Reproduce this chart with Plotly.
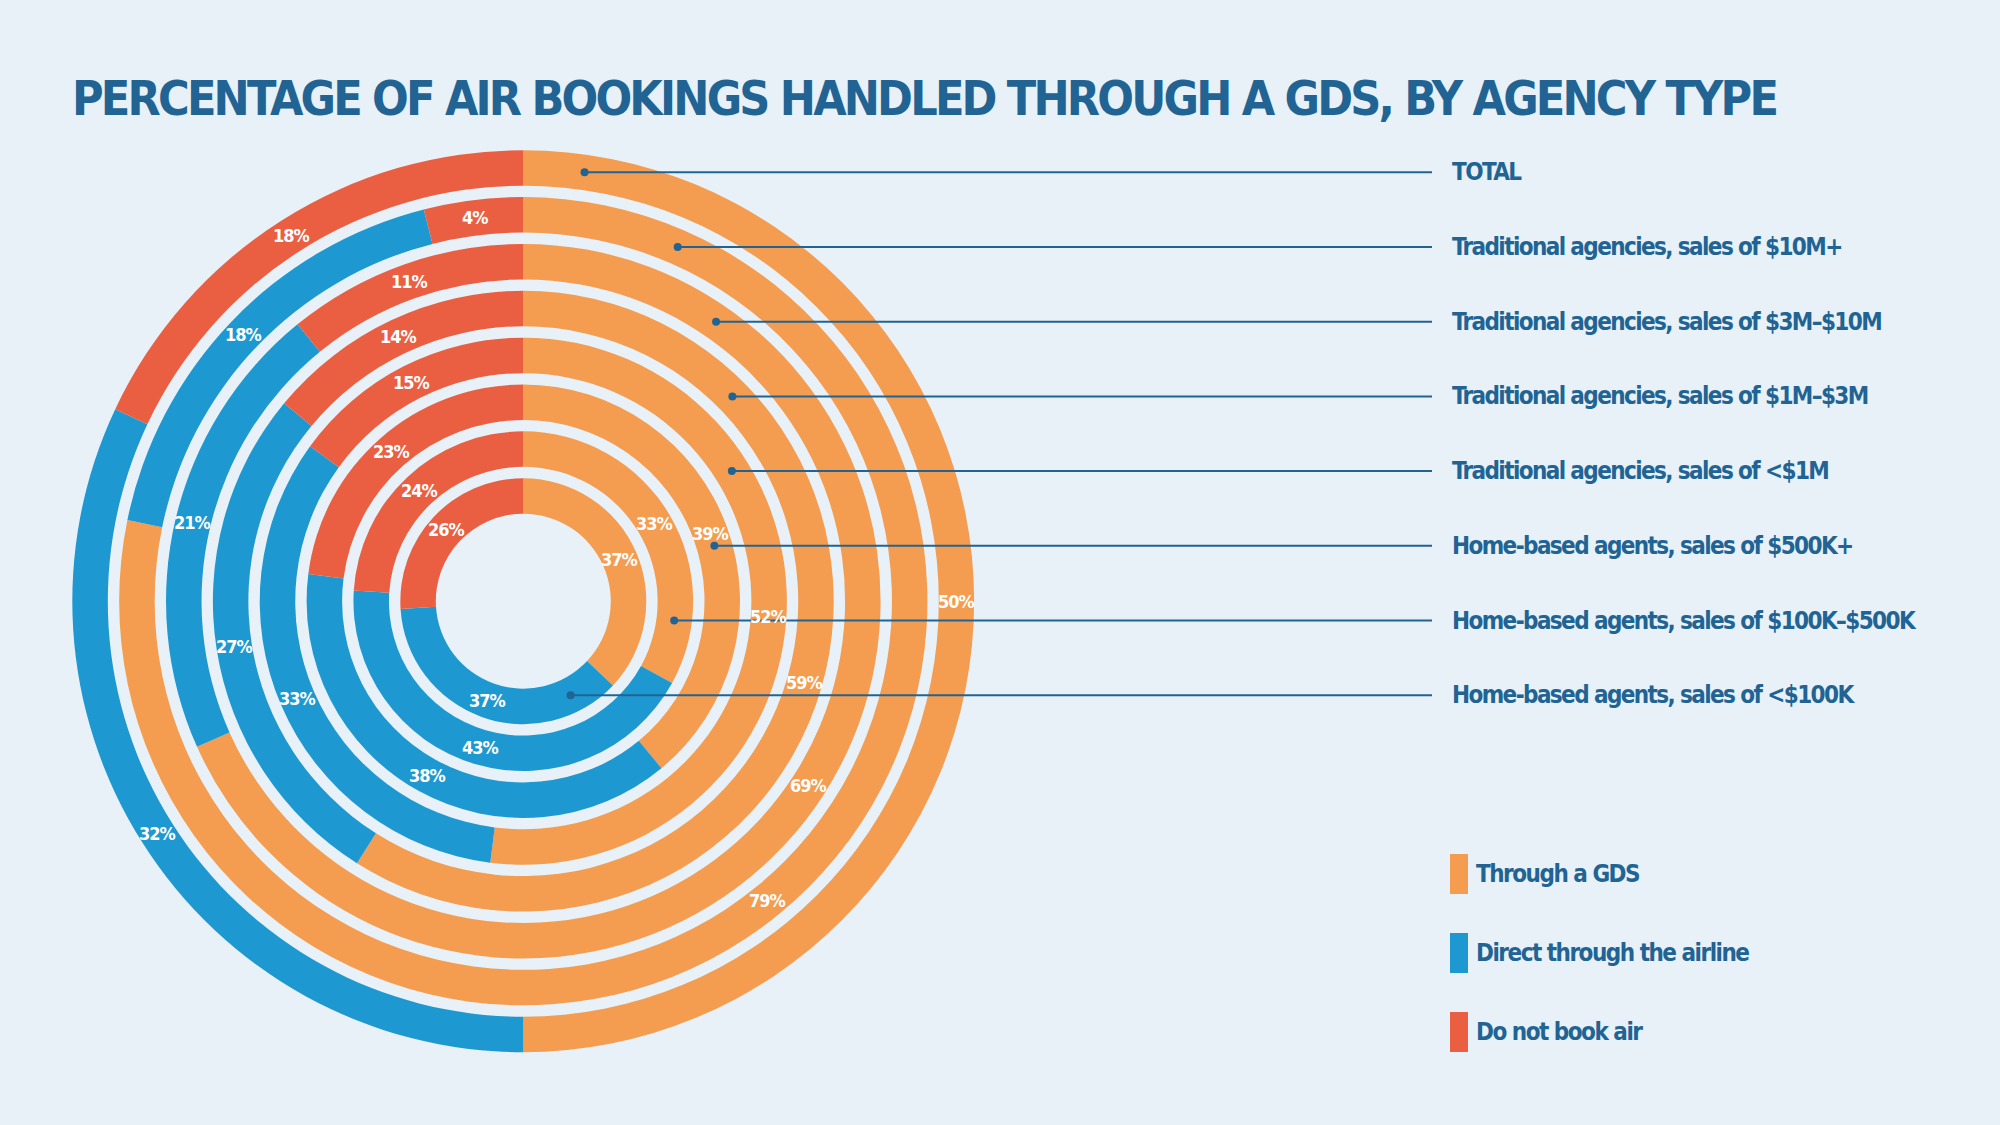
import math
import plotly.graph_objects as go

# ---------------- data ----------------
ring_names = [
    "TOTAL",
    "Traditional agencies, sales of $10M+",
    "Traditional agencies, sales of $3M–$10M",
    "Traditional agencies, sales of $1M–$3M",
    "Traditional agencies, sales of <$1M",
    "Home-based agents, sales of $500K+",
    "Home-based agents, sales of $100K–$500K",
    "Home-based agents, sales of <$100K",
]
series_names = ["Through a GDS", "Direct through the airline", "Do not book air"]
gds = [50, 79, 69, 59, 52, 39, 33, 37]
direct = [32, 18, 21, 27, 33, 38, 43, 37]
no_air = [18, 4, 11, 14, 15, 23, 24, 26]
title_text = "PERCENTAGE OF AIR BOOKINGS HANDLED THROUGH A GDS, BY AGENCY TYPE"

# ---------------- style ----------------
W, H = 2000, 1125
BG = "#E8F1F8"
DARK = "#216494"
COLORS = ["#F49D50", "#1E98D0", "#EA5F42"]
FONT = "DejaVu Sans Condensed, DejaVu Sans, sans-serif"

CX, CY = 523.3, 601.2       # ring centre in pixels
R_OUT = 451.0               # outer radius of outermost ring
STEP = 46.86                # radial distance between rings
THICK = 35.5                # ring thickness


def px(x):
    return x / W


def py(y):
    return (H - y) / H


def tight(s, ls):
    s = s.replace("<", "&lt;")
    return f'<span style="letter-spacing:{ls}px">{s}</span>'


fig = go.Figure()
annotations = []
shapes = []

for i, name in enumerate(ring_names):
    R = R_OUT - i * STEP
    r_in = R - THICK
    vals = [gds[i], direct[i], no_air[i]]
    fig.add_trace(go.Pie(
        values=vals,
        labels=series_names,
        name=name,
        sort=False,
        direction="clockwise",
        rotation=0,
        hole=r_in / R,
        marker=dict(colors=COLORS, line=dict(width=0)),
        textinfo="none",
        showlegend=False,
        domain=dict(x=[px(CX - R), px(CX + R)], y=[py(CY + R), py(CY - R)]),
        hovertemplate="%{label}: %{value}%<extra></extra>",
    ))
    total = sum(vals)
    rm = R - THICK / 2
    cum = 0
    for v in vals:
        ang = 2 * math.pi * (cum + v / 2) / total
        cum += v
        x = CX + rm * math.sin(ang)
        y = CY - rm * math.cos(ang)
        annotations.append(dict(
            x=px(x), y=py(y), xref="paper", yref="paper",
            text=tight(f"{v}%", -1), showarrow=False,
            font=dict(family=FONT, size=18, color="white", weight="bold"),
            xanchor="center", yanchor="middle",
        ))
    ly = 172.3 + 74.7 * i
    dy = CY - ly
    dx = math.sqrt(max(rm * rm - dy * dy, 0))
    dot_x = CX + dx
    shapes.append(dict(type="line", xref="paper", yref="paper",
                       x0=px(dot_x), x1=px(1432), y0=py(ly), y1=py(ly),
                       line=dict(color=DARK, width=2)))
    shapes.append(dict(type="circle", xref="paper", yref="paper",
                       x0=px(dot_x - 4), x1=px(dot_x + 4),
                       y0=py(ly + 4), y1=py(ly - 4),
                       fillcolor=DARK, line=dict(width=0)))
    annotations.append(dict(
        x=px(1450), y=py(ly), xref="paper", yref="paper",
        text=tight(name, -1.6), showarrow=False,
        font=dict(family=FONT, size=24, color=DARK, weight="bold"),
        xanchor="left", yanchor="middle",
    ))

for j, s in enumerate(series_names):
    yc = 874 + 79 * j
    shapes.append(dict(type="rect", xref="paper", yref="paper",
                       x0=px(1450), x1=px(1468), y0=py(yc + 20), y1=py(yc - 20),
                       fillcolor=COLORS[j], line=dict(width=0)))
    annotations.append(dict(
        x=px(1474), y=py(yc), xref="paper", yref="paper",
        text=tight(s, -1.5), showarrow=False,
        font=dict(family=FONT, size=24, color=DARK, weight="bold"),
        xanchor="left", yanchor="middle",
    ))

annotations.append(dict(
    x=px(70), y=py(98), xref="paper", yref="paper",
    text=tight(title_text, -2.8),
    showarrow=False,
    font=dict(family=FONT, size=48, color=DARK, weight="bold"),
    xanchor="left", yanchor="middle",
))

fig.update_layout(
    width=W, height=H,
    margin=dict(l=0, r=0, t=0, b=0),
    paper_bgcolor=BG, plot_bgcolor=BG,
    annotations=annotations,
    shapes=shapes,
    showlegend=False,
)

fig.write_html("out.html")
